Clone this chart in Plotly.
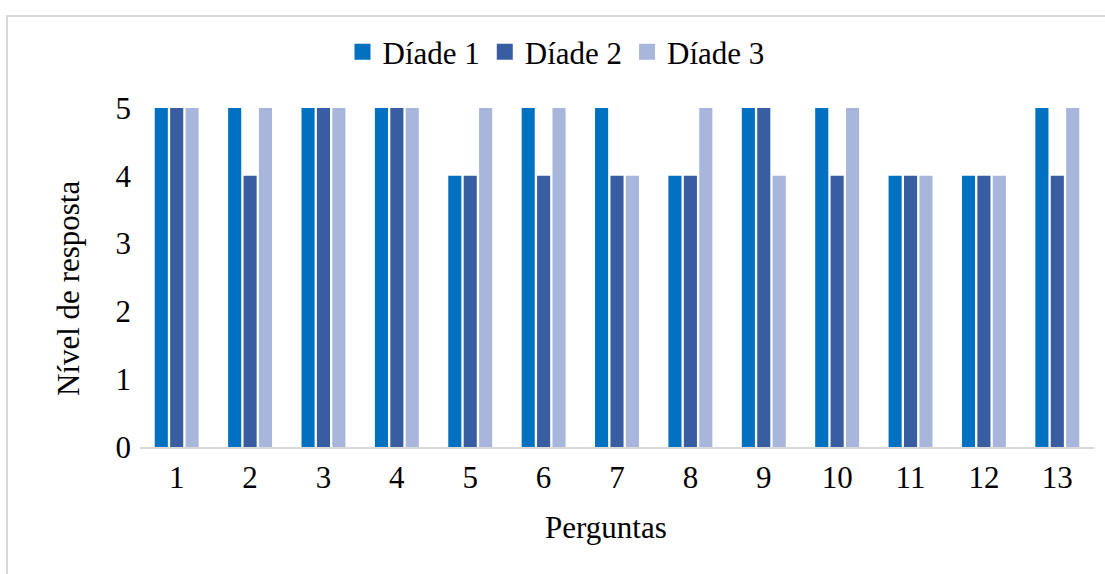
import plotly.graph_objects as go

perguntas = ["1", "2", "3", "4", "5", "6", "7", "8", "9", "10", "11", "12", "13"]
diade1 = [5, 5, 5, 5, 4, 5, 5, 4, 5, 5, 4, 4, 5]
diade2 = [5, 4, 5, 5, 4, 4, 4, 4, 5, 4, 4, 4, 4]
diade3 = [5, 5, 5, 5, 5, 5, 4, 5, 4, 5, 4, 4, 5]
series_names = ["Díade 1", "Díade 2", "Díade 3"]
colors = ["#0070C0", "#385DA0", "#A8B6DC"]
y_ticks = [0, 1, 2, 3, 4, 5]

W, H = 1105, 574
L, R, T, B = 140, 1094, 108, 447
pw, ph = R - L, B - T

FONT = "Liberation Serif"
FS = 31

fig = go.Figure()
for name, vals, c in zip(series_names, [diade1, diade2, diade3], colors):
    fig.add_trace(go.Bar(x=perguntas, y=vals, name=name, showlegend=False,
                         marker=dict(color=c, line=dict(width=0))))
# legend entries with larger square keys
for name, c in zip(series_names, colors):
    fig.add_trace(go.Scatter(x=[None], y=[None], mode="markers", name=name,
                             marker=dict(symbol="square", size=16, color=c), hoverinfo="skip"))

def px_x(x):
    return (x - L) / pw

def px_y(y):
    return (B - y) / ph

fig.update_layout(
    width=W, height=H,
    margin=dict(l=L, r=W - R, t=T, b=H - B, autoexpand=False),
    paper_bgcolor="white", plot_bgcolor="white",
    barmode="group", bargap=0.37, bargroupgap=0.15,
    font=dict(family=FONT, size=FS, color="#000000"),
    showlegend=True,
    legend=dict(orientation="h", x=px_x(556), xanchor="center", y=px_y(52), yanchor="middle",
                font=dict(family=FONT, size=FS), traceorder="normal", bgcolor="rgba(0,0,0,0)",
                itemsizing="trace"),
    xaxis=dict(showline=True, linecolor="#d9d9d9", linewidth=2, ticks="", showgrid=False,
               tickfont=dict(family=FONT, size=FS), zeroline=False, ticklabelstandoff=2),
    yaxis=dict(range=[0, 5], tickvals=y_ticks, showgrid=False, zeroline=False, showline=False,
               ticks="", ticklabelstandoff=8, tickfont=dict(family=FONT, size=FS)),
    shapes=[dict(type="rect", xref="paper", yref="paper",
                 x0=px_x(7), x1=px_x(1112), y0=px_y(582), y1=px_y(16),
                 line=dict(color="#d9d9d9", width=2), fillcolor="rgba(0,0,0,0)", layer="below")],
    annotations=[
        dict(text="Perguntas", xref="paper", yref="paper", x=px_x(606), y=px_y(527),
             xanchor="center", yanchor="middle", showarrow=False, font=dict(family=FONT, size=FS)),
        dict(text="Nível de resposta", xref="paper", yref="paper", x=px_x(68), y=px_y(289),
             xanchor="center", yanchor="middle", textangle=-90, showarrow=False,
             font=dict(family=FONT, size=FS)),
    ],
)

fig.write_html("out.html", config={"displayModeBar": False},
               post_script="document.body.style.margin='0';document.body.style.overflow='hidden';")
